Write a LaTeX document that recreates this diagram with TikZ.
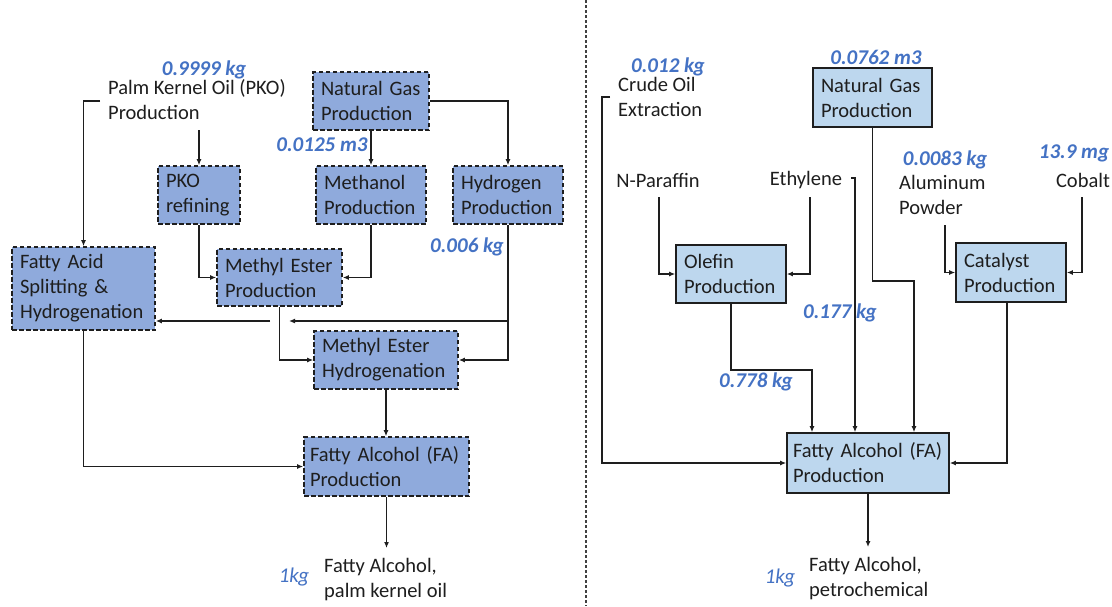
\documentclass[tikz,border=0pt]{standalone}
\usepackage{fontspec}
\setmainfont{Carlito}
\usetikzlibrary{arrows.meta,calc}
\definecolor{lfill}{RGB}{143,170,220}
\definecolor{rfill}{RGB}{189,215,238}
\definecolor{lbl}{RGB}{68,114,196}
\definecolor{lncol}{RGB}{30,30,30}
\begin{document}
\begin{tikzpicture}[x=1pt,y=-1pt,
  every node/.style={font=\fontsize{20.5}{25}\selectfont, text=lncol},
  box/.style={draw=lncol, line width=1.6pt, inner xsep=8pt, inner ysep=0pt, align=left},
  lbox/.style={box, fill=lfill, dash pattern=on 4.5pt off 2.5pt},
  rbox/.style={box, fill=rfill},
  lab/.style={font=\fontsize{21}{25}\selectfont\bfseries\itshape, text=lbl, inner sep=0pt},
  kg/.style={font=\fontsize{21}{25}\selectfont\itshape, text=lbl, inner sep=0pt},
  txt/.style={inner sep=0pt, align=left, anchor=west},
  arr/.style={draw=lncol, line width=1.4pt, -{Latex[length=6pt,width=5pt]}}]
\useasboundingbox (0,0) rectangle (1112,606);
\fill[white] (0,0) rectangle (1112,606);

% separator
\draw[lncol!85, line width=1.1pt, dash pattern=on 3pt off 2pt] (586,0) -- (586,606);

% ---------- LEFT: palm kernel oil ----------
\node[lbox, minimum width=82pt, minimum height=58pt, text width=66pt] (pko) at (199,195) {PKO\\refining};
\node[lbox, minimum width=116pt, minimum height=58pt, text width=100pt] (ng1) at (371,101) {Natural Gas\\Production};
\node[lbox, minimum width=110pt, minimum height=58pt, text width=94pt] (meth) at (371,195) {Methanol\\Production};
\node[lbox, minimum width=110pt, minimum height=58pt, text width=94pt] (hyd) at (508,195) {Hydrogen\\Production};
\node[lbox, minimum width=143pt, minimum height=83pt, text width=127pt] (fas) at (83.5,288.5) {Fatty Acid\\Splitting \&\\Hydrogenation};
\node[lbox, minimum width=125pt, minimum height=57pt, text width=109pt] (mep) at (279.5,277.5) {\mbox{Methyl Ester}\\Production};
\node[lbox, minimum width=144pt, minimum height=58pt, text width=128pt] (meh) at (386,360) {Methyl Ester\\Hydrogenation};
\node[lbox, inner xsep=6pt, minimum width=165pt, minimum height=59pt, text width=153pt] (fa1) at (386.5,466.5) {\mbox{Fatty Alcohol (FA)}\\Production};

\node[lab] (w1) at (204,70) {0.9999 kg};
\node[txt] (pkosrc) at (108,100) {Palm Kernel Oil (PKO)\\Production};
\node[lab] (w2) at (322,145) {0.0125 m3};
\node[lab] (w3) at (467,247) {0.006 kg};
\node[kg] (w4) at (294,577) {1kg};
\node[txt] (out1) at (324,580) {Fatty Alcohol,\\palm kernel oil};

\coordinate (pkoL) at (100,101);
\coordinate (pkoB) at (199,130);
\coordinate (hbr) at (508,321);
\coordinate (hend) at (289,321);
\coordinate (mbr) at (270,321);
\coordinate (fa1out) at (386.5,548);

\draw[arr] (pkoL) -| (fas.north);
\draw[arr] (pkoB) -- (pko.north);
\draw[arr] (ng1.south) -- (meth.north);
\draw[arr] (ng1.east) -| (hyd.north);
\draw[arr] (pko.south) |- (mep.west);
\draw[arr] (meth.south) |- (mep.east);
\draw[arr] (hyd.south) |- (meh.east);
\draw[arr] (hbr) -- (hend);
\draw[arr] (mep.south) |- (meh.west);
\draw[arr] (mbr) -- (mbr -| fas.east);
\draw[arr] (meh.south) -- (meh.south |- fa1.north);
\draw[arr] (fas.south) |- (fa1.west);
\draw[arr] (fa1.south) -- (fa1out);

% ---------- RIGHT: petrochemical ----------
\node[rbox, minimum width=119pt, minimum height=59pt, text width=103pt] (ng2) at (872.5,97.5) {Natural Gas\\Production};
\node[rbox, minimum width=110pt, minimum height=58pt, text width=94pt] (ole) at (731,274) {Olefin\\Production};
\node[rbox, minimum width=110pt, minimum height=59pt, text width=94pt] (cat) at (1011,272.5) {Catalyst\\Production};
\node[rbox, inner xsep=6pt, minimum width=162pt, minimum height=60pt, text width=150pt] (fa2) at (868,463) {\mbox{Fatty Alcohol (FA)}\\Production};

\node[lab] (r1) at (668,67) {0.012 kg};
\node[txt] (crude) at (618,97) {Crude Oil\\Extraction};
\node[lab] (r2) at (876,57) {0.0762 m3};
\node (npar) at (658,180) {N-Paraffin};
\node (eth) at (806,180) {Ethylene};
\node[lab] (r3) at (945,160) {0.0083 kg};
\node[txt] (alu) at (899,195) {Aluminum\\Powder};
\node[lab] (r4) at (1074,153) {13.9 mg};
\node (cob) at (1083,180) {Cobalt};
\node[lab] (r5) at (840,313) {0.177 kg};
\node[lab] (r6) at (756,382) {0.778 kg};
\node[kg] (r7) at (780,578) {1kg};
\node[txt] (out2) at (809,579) {Fatty Alcohol,\\petrochemical};

\coordinate (cL) at (610,97);
\coordinate (npB) at (659,197);
\coordinate (etB) at (810,197);
\coordinate (etR) at (851,178);
\coordinate (alB) at (945,225);
\coordinate (coB) at (1082,197);
\coordinate (fa2out) at (868,547);

\draw[arr] (cL) -- ++(-8,0) |- (fa2.west);
\draw[arr] (npB) |- (ole.west);
\draw[arr] (etB) |- (ole.east);
\draw[arr] (etR) -| ([xshift=-13pt]fa2.north);
\draw[arr] (ng2.south) -- ++(0,153) -| ([xshift=46pt]fa2.north);
\draw[arr] (ole.south) -- ++(0,66) -| ([xshift=-56pt]fa2.north);
\draw[arr] (alB) |- (cat.west);
\draw[arr] (coB) |- (cat.east);
\draw[arr] ([xshift=-4pt]cat.south) |- (fa2.east);
\draw[arr] (fa2.south) -- (fa2out);
\end{tikzpicture}
\end{document}
